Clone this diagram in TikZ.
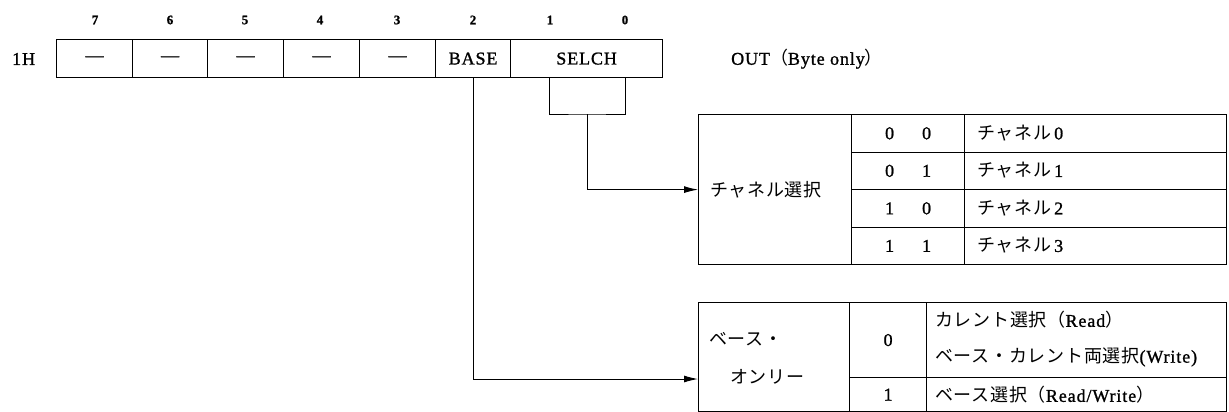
\documentclass[tikz,border=0pt]{standalone}
\usepackage{fontspec}
\setmainfont[FakeBold=1.2,LetterSpace=5]{Liberation Serif}
\newfontfamily\jp[LetterSpace=4]{Noto Sans CJK JP}
\usetikzlibrary{arrows.meta}
\newcommand\lmfs{\fontsize{18}{20}\selectfont}
\newcommand\bitfs{\fontsize{13}{15}\selectfont\bfseries}
\begin{document}
\begin{tikzpicture}[x=1pt,y=-1pt,
  box/.style={draw, line width=1.2pt, inner sep=0pt, anchor=north west, font=\lmfs},
  txt/.style={inner sep=0pt, anchor=west, font=\lmfs},
  bitno/.style={inner sep=0pt, font=\bitfs},
  conn/.style={line width=1pt},
  arr/.style={line width=1pt, -{Latex[length=14pt,width=7pt]}}]
\useasboundingbox (0,0) rectangle (1229,412);

% register
\node[txt] (reg) at (12,59) {1H};
\node[box, minimum width=76pt, minimum height=38pt] (b7) at (56,39) {---};
\node[box, minimum width=75pt, minimum height=38pt] (b6) at (132,39) {---};
\node[box, minimum width=76pt, minimum height=38pt] (b5) at (207,39) {---};
\node[box, minimum width=76pt, minimum height=38pt] (b4) at (283,39) {---};
\node[box, minimum width=76pt, minimum height=38pt] (b3) at (359,39) {---};
\node[box, minimum width=75pt, minimum height=38pt] (b2) at (435,39) {BASE};
\node[box, minimum width=152pt, minimum height=38pt] (b10) at (510,39) {SELCH};
\node[txt] (out) at (731,59) {OUT{\jp （}Byte only{\jp ）}};

\node[bitno] (n7) at (95,20) {7};
\node[bitno] (n6) at (170,20) {6};
\node[bitno] (n5) at (245,20) {5};
\node[bitno] (n4) at (320,20) {4};
\node[bitno] (n3) at (397,20) {3};
\node[bitno] (n2) at (473,20) {2};
\node[bitno] (n1) at (550,20) {1};
\node[bitno] (n0) at (625,20) {0};

% channel table
\node[box, minimum width=153pt, minimum height=150pt] (chsel) at (698,114) {};
\node[txt] (chseltxt) at (710,190) {\jp チャネル選択};
\foreach \i/\a/\b in {0/0/0,1/0/1,2/1/0,3/1/1}{
  \node[box, minimum width=113pt, minimum height=37.5pt] (cv\i) at (851,114+37.5*\i) {\a\hspace{28pt}\b};
  \node[box, minimum width=262pt, minimum height=37.5pt] (cl\i) at (964,114+37.5*\i) {};
  \node[txt] (ct\i) at (977,133+37.5*\i) {{\jp チャネル}\,\i};
}

% base table
\node[box, minimum width=151pt, minimum height=109pt] (bsel) at (698,302) {};
\node[txt] (bseltxt1) at (709,339) {\jp ベース・};
\node[txt] (bseltxt2) at (730,377) {\jp オンリー};
\node[box, minimum width=77pt, minimum height=75pt] (bv0) at (849,302) {0};
\node[box, minimum width=300pt, minimum height=75pt] (bl0) at (926,302) {};
\node[box, minimum width=77pt, minimum height=34pt] (bv1) at (849,377) {1};
\node[box, minimum width=300pt, minimum height=34pt] (bl1) at (926,377) {};
\node[txt] (bt0a) at (935,320) {{\jp カレント選択（}Read{\jp ）}};
\node[txt] (bt0b) at (935,357) {{\jp ベース・カレント両選択}(Write)};
\node[txt] (bt1) at (935,395) {{\jp ベース選択（}Read/Write{\jp ）}};

% connectors
\coordinate (s1) at (549,77);
\coordinate (s0) at (625,77);
\coordinate (bk) at (587,114);
\draw[conn] (s1) |- (bk) -| (s0);
\draw[arr] (bk) |- (chsel.west);
\coordinate (ba) at (698,379);
\draw[arr] (b2.south) |- (ba);
\end{tikzpicture}
\end{document}
